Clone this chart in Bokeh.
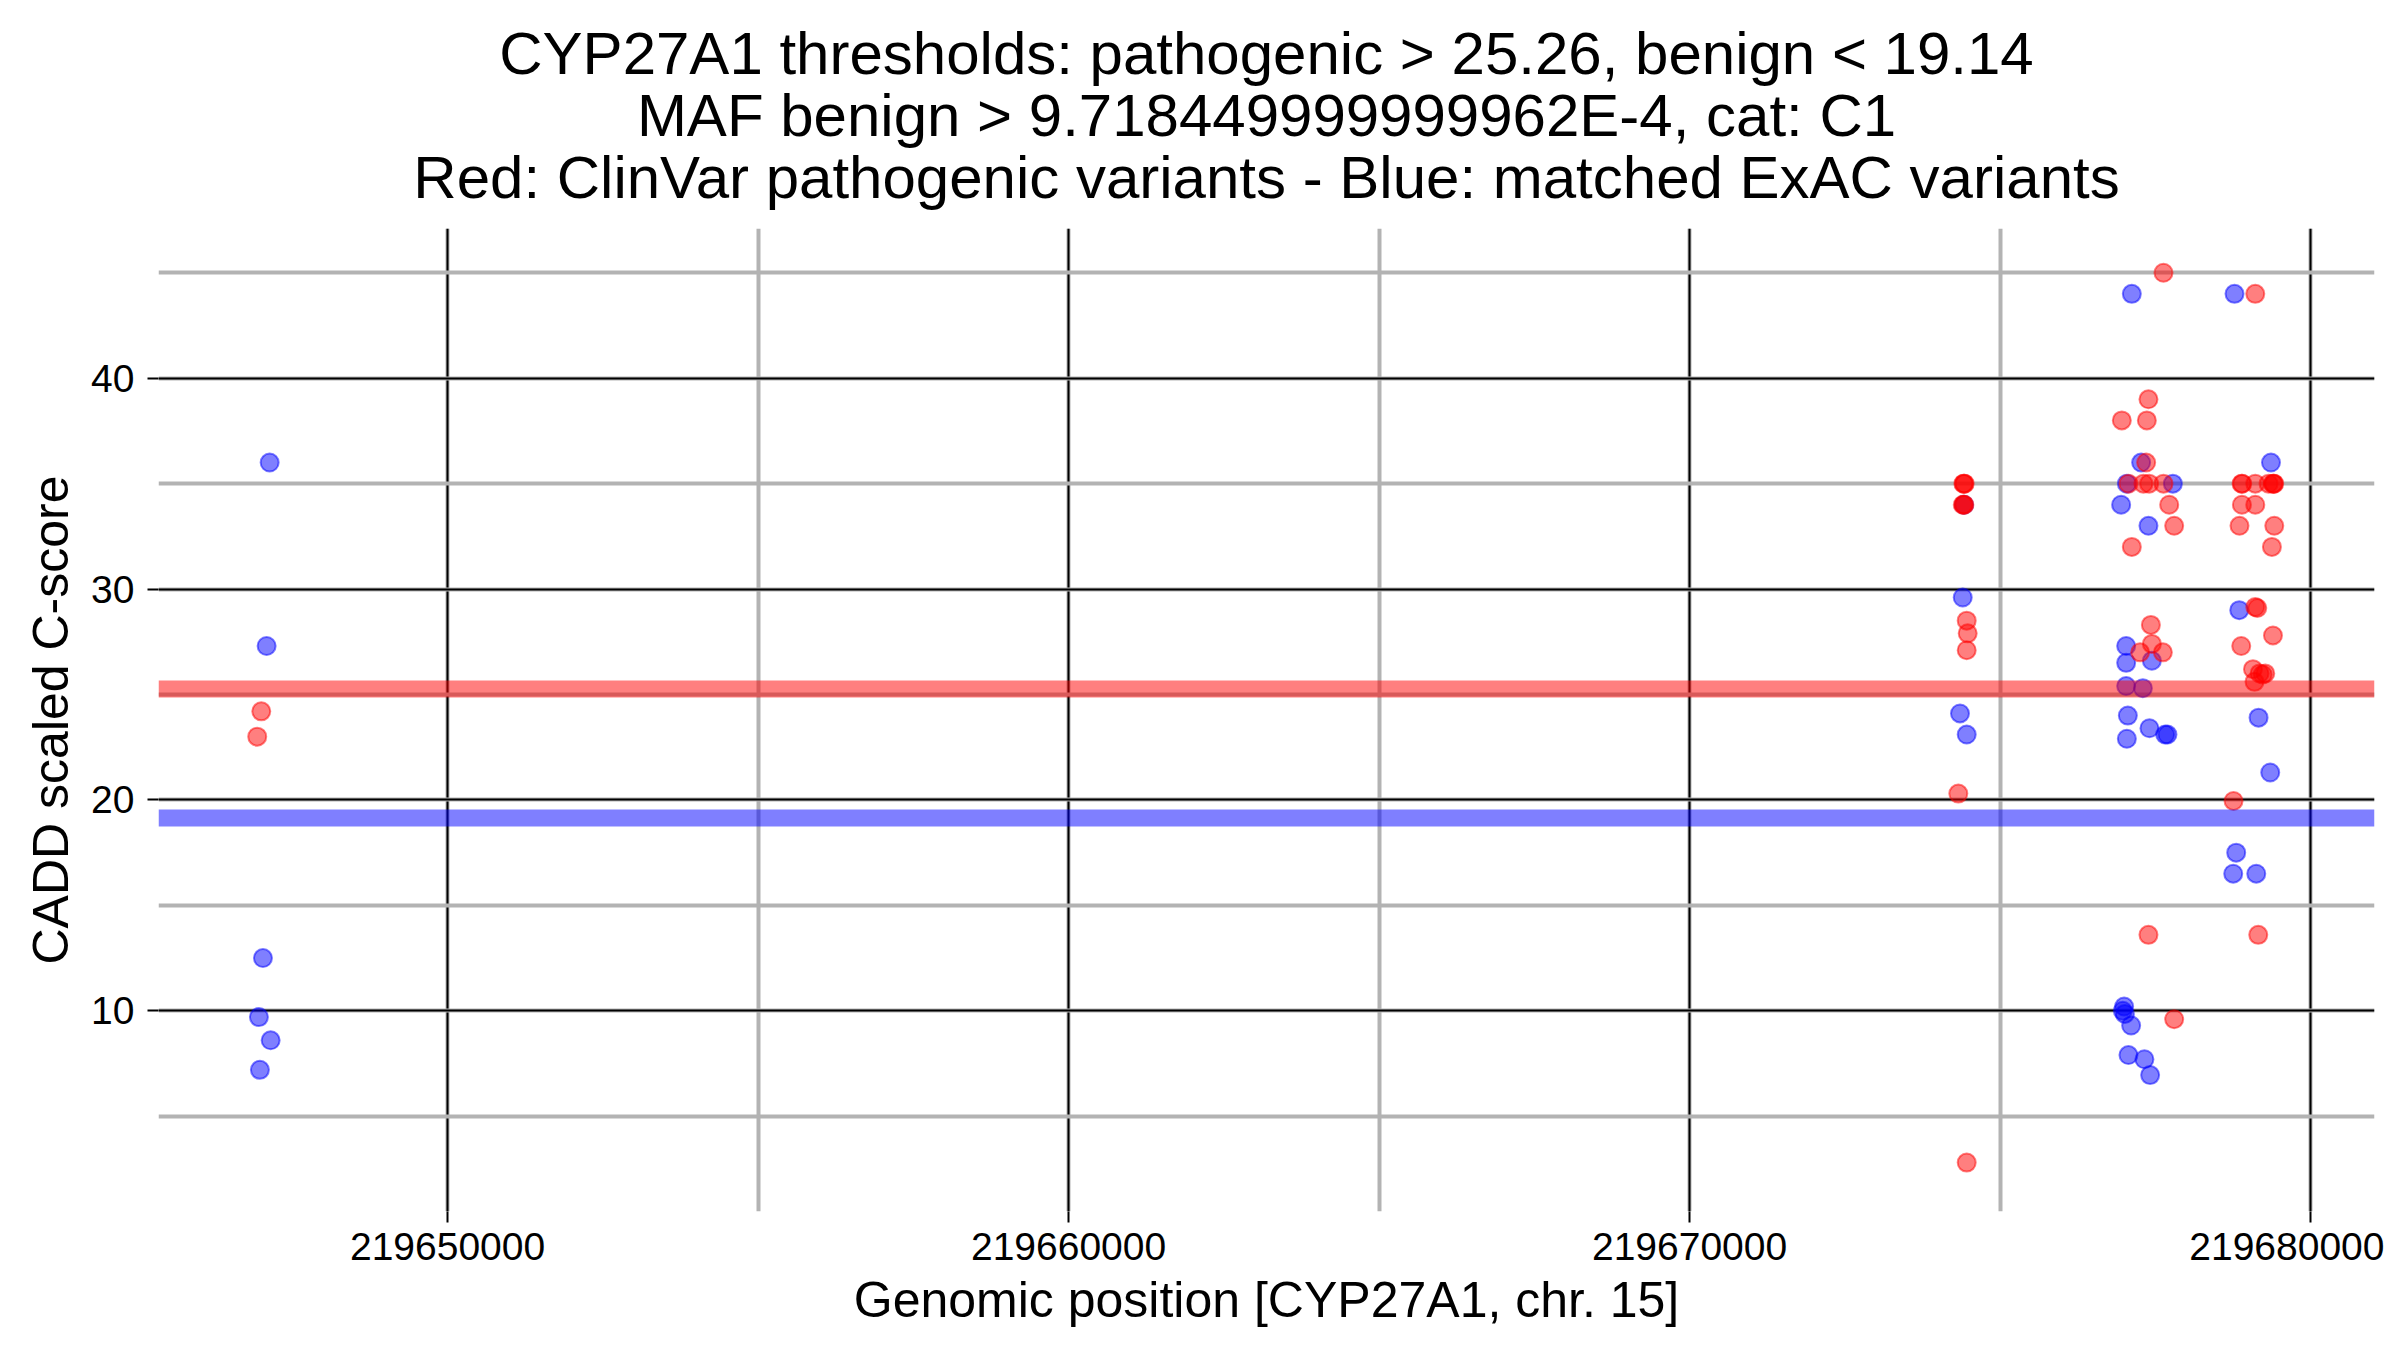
from bokeh.plotting import figure
from bokeh.models import Range1d, SingleIntervalTicker, BasicTickFormatter, Span, Title, ColumnDataSource
from bokeh.embed import file_html
from bokeh.resources import INLINE

# ---------------- data ----------------
title_lines = [
    "CYP27A1 thresholds: pathogenic > 25.26, benign < 19.14",
    "MAF benign > 9.718449999999962E-4, cat: C1",
    "Red: ClinVar pathogenic variants - Blue: matched ExAC variants",
]
x_label = "Genomic position [CYP27A1, chr. 15]"
y_label = "CADD scaled C-score"

pathogenic_threshold = 25.26
benign_threshold = 19.14

# matched ExAC variants (blue)
exac_pos = [
    219647135, 219647086, 219647027, 219646962, 219647151, 219646978,
    219674420, 219674399, 219674355, 219674463,
    219677122, 219677272, 219677042, 219677783, 219676950, 219677390,
    219677031, 219677031, 219677445, 219677031, 219677300, 219677058,
    219677406, 219677659, 219677696, 219677042, 219676998, 219676977,
    219677010, 219677111, 219677068, 219677325, 219677417,
    219678776, 219679363, 219678852, 219679163, 219679351, 219678803,
    219678755, 219679126,
]
exac_cadd = [
    36.0, 27.3, 12.5, 9.7, 8.6, 7.2,
    34.0, 29.6, 24.1, 23.1,
    44.0, 36.0, 35.0, 35.0, 34.0, 33.0,
    27.3, 26.5, 26.6, 25.4, 25.3, 24.0,
    23.4, 23.1, 23.1, 22.9, 10.2, 10.0,
    9.85, 9.3, 7.9, 7.7, 6.95,
    44.0, 36.0, 29.0, 23.9, 21.3, 17.5,
    16.5, 16.5,
]

# ClinVar pathogenic variants (red)
clinvar_pos = [
    219647000, 219646935,
    219674410, 219674420, 219674430, 219674400, 219674415, 219674425,
    219674463, 219674479, 219674463, 219674328, 219674463,
    219677632, 219677390, 219676961, 219677364, 219677353, 219677068,
    219677309, 219677401, 219677632, 219677724, 219677804, 219677122,
    219677429, 219677445, 219677256, 219677622, 219677390, 219677804,
    219679110, 219678890, 219678900, 219679110, 219679324, 219679395,
    219679405, 219679415, 219678895, 219679110, 219678856, 219679416,
    219679378, 219679110, 219679142, 219679395, 219678884, 219679073,
    219679179, 219679230, 219679271, 219679098, 219678760, 219679158,
]
clinvar_cadd = [
    24.2, 23.0,
    35.0, 35.0, 35.0, 34.0, 34.0, 34.0,
    28.5, 27.9, 27.1, 20.3, 2.8,
    45.0, 39.0, 38.0, 38.0, 36.0, 35.0,
    35.0, 35.0, 35.0, 34.0, 33.0, 32.0,
    28.3, 27.4, 27.0, 27.0, 13.6, 9.6,
    44.0, 35.0, 35.0, 35.0, 35.0, 35.0,
    35.0, 35.0, 34.0, 34.0, 33.0, 33.0,
    32.0, 29.15, 29.1, 27.8, 27.3, 26.2,
    26.0, 25.95, 26.0, 25.6, 19.95, 13.6,
]

# ---------------- figure ----------------
FONT = "Liberation Sans"

p = figure(
    width=2384, height=1334,
    x_range=Range1d(219645345, 219681030),
    y_range=Range1d(0.48, 47.1),
    output_backend="svg", toolbar_location=None,
    min_border_left=158, min_border_right=10,
    min_border_top=228, min_border_bottom=123,
)
p.outline_line_color = None
p.background_fill_color = "white"
p.border_fill_color = "white"


def make_title(text, standoff):
    return Title(text=text, align="center", text_font=FONT,
                 text_font_size="60px", text_font_style="normal",
                 text_color="black", standoff=standoff)


# p.title ends up outermost; added titles stack with the first one nearest the plot
p.title = make_title(title_lines[0], 33)
p.add_layout(make_title(title_lines[2], 35), "above")
p.add_layout(make_title(title_lines[1], -48), "above")

p.xaxis.ticker = SingleIntervalTicker(interval=10000, num_minor_ticks=2)
p.yaxis.ticker = SingleIntervalTicker(interval=10, num_minor_ticks=2)
p.xaxis.formatter = BasicTickFormatter(use_scientific=False)

for ax in (p.xaxis, p.yaxis):
    ax.axis_line_color = None
    ax.major_tick_in = 0
    ax.major_tick_out = 11
    ax.major_tick_line_color = "black"
    ax.major_tick_line_width = 2
    ax.minor_tick_in = 0
    ax.minor_tick_out = 0
    ax.major_label_text_font = FONT
    ax.major_label_text_font_size = "39px"
    ax.major_label_text_color = "black"
    ax.axis_label_text_font = FONT
    ax.axis_label_text_font_size = "50px"
    ax.axis_label_text_font_style = "normal"
    ax.axis_label_text_color = "black"

p.xaxis.axis_label = x_label
p.yaxis.axis_label = y_label
p.xaxis.major_label_standoff = 10
p.xaxis.axis_label_standoff = 9
p.yaxis.major_label_standoff = 13
p.yaxis.axis_label_standoff = 9

for g in (p.xgrid, p.ygrid):
    g.grid_line_color = "black"
    g.grid_line_width = 2
    g.minor_grid_line_color = "#b3b3b3"
    g.minor_grid_line_width = 4

exac = ColumnDataSource(dict(x=exac_pos, y=exac_cadd))
clin = ColumnDataSource(dict(x=clinvar_pos, y=clinvar_cadd))

p.scatter("x", "y", source=exac, size=18, fill_color="blue", line_color="blue",
          fill_alpha=0.5, line_alpha=0.5, line_width=2)
p.scatter("x", "y", source=clin, size=18, fill_color="red", line_color="red",
          fill_alpha=0.5, line_alpha=0.5, line_width=2)

p.add_layout(Span(location=pathogenic_threshold, dimension="width",
                  line_color="red", line_alpha=0.5, line_width=17))
p.add_layout(Span(location=benign_threshold, dimension="width",
                  line_color="blue", line_alpha=0.5, line_width=17))

open("out.html", "w").write(file_html(p, INLINE))
